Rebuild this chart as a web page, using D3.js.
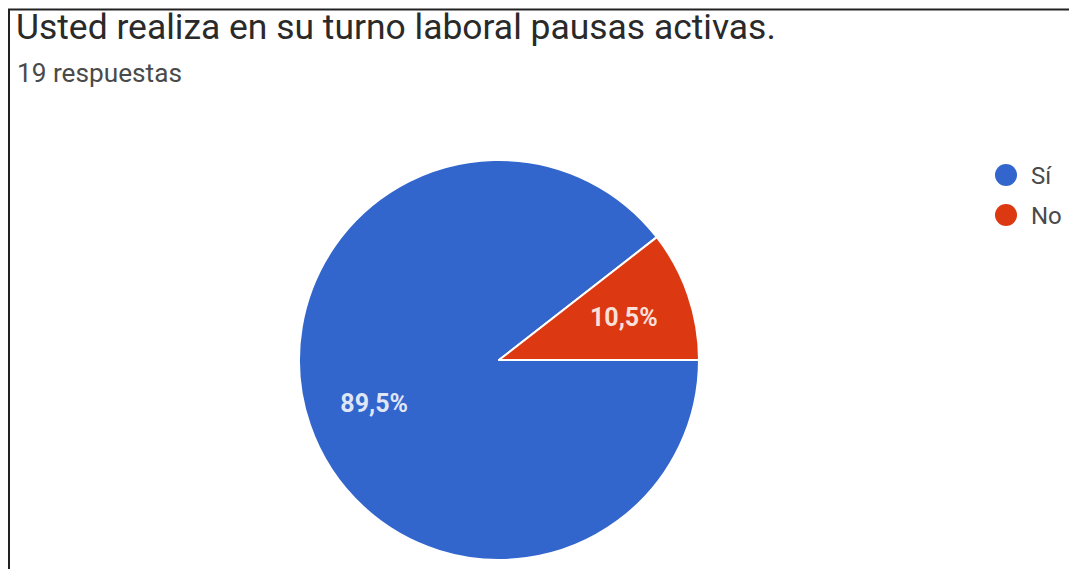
<!DOCTYPE html>
<html>
<head>
<meta charset="utf-8">
<script src="https://cdn.jsdelivr.net/npm/d3@7"></script>
<style>
  html, body { margin: 0; padding: 0; background: #fff; }
  svg { display: block; }
</style>
</head>
<body>
<svg id="chart" width="1069" height="569"></svg>
<script>
// Survey question and responses
const title = "Usted realiza en su turno laboral pausas activas.";
const subtitle = "19 respuestas";
const categories = ["Sí", "No"];
const values = [17, 2];
const percentLabels = ["89,5%", "10,5%"];
const colors = ["#3366cc", "#dc3912"];

const svg = d3.select("#chart");
const W = 1069, H = 569;
const FONT = "Roboto, 'Noto Sans', Arial, sans-serif";

// Sets a text's font size so that its natural width reaches the given width
function fitWidth(sel, width, baseSize) {
  sel.attr("font-size", baseSize);
  const w = sel.node().getComputedTextLength();
  sel.attr("font-size", baseSize * width / w);
  return sel;
}

// Frame lines along the top and left edges
svg.append("line").attr("x1", 8).attr("x2", W).attr("y1", 9.5).attr("y2", 9.5)
  .attr("stroke", "#222").attr("stroke-width", 2);
svg.append("line").attr("x1", 9).attr("x2", 9).attr("y1", 9).attr("y2", H)
  .attr("stroke", "#222").attr("stroke-width", 2);

// Title and response count
const titleText = svg.append("text")
  .attr("x", 16).attr("y", 39)
  .attr("font-family", FONT)
  .attr("fill", "#2a2a2a")
  .text(title);
fitWidth(titleText, 760, 28);

const subText = svg.append("text")
  .attr("x", 17).attr("y", 82)
  .attr("font-family", FONT)
  .attr("fill", "#4a4a4a")
  .text(subtitle);
fitWidth(subText, 165, 20);

// Pie, starting at 3 o'clock and running clockwise
const cx = 499, cy = 360, R = 200;
const pie = d3.pie().sort(null)
  .startAngle(Math.PI / 2).endAngle(Math.PI / 2 + 2 * Math.PI)
  .value(d => d);
const arcs = pie(values);
const arc = d3.arc().innerRadius(0).outerRadius(R);
const labelArc = d3.arc().innerRadius(R * 0.66).outerRadius(R * 0.66);

const g = svg.append("g").attr("transform", `translate(${cx},${cy})`);
g.selectAll("path.slice")
  .data(arcs)
  .join("path")
  .attr("class", "slice")
  .attr("d", arc)
  .attr("fill", (d, i) => colors[i])
  .attr("stroke", "#fff")
  .attr("stroke-width", 2)
  .attr("stroke-linejoin", "round");

g.selectAll("text.pct")
  .data(arcs)
  .join("text")
  .attr("class", "pct")
  .attr("transform", d => `translate(${labelArc.centroid(d)})`)
  .attr("text-anchor", "middle")
  .attr("dy", "0.36em")
  .attr("font-family", FONT)
  .attr("font-size", 25)
  .attr("font-weight", "bold")
  .attr("fill", "#fff")
  .attr("fill-opacity", 0.85)
  .text((d, i) => percentLabels[i]);

// Legend
const legend = svg.append("g").attr("transform", "translate(1006,175)");
const item = legend.selectAll("g.item")
  .data(categories)
  .join("g")
  .attr("class", "item")
  .attr("transform", (d, i) => `translate(0,${i * 40})`);
item.append("circle").attr("r", 11).attr("fill", (d, i) => colors[i]);
item.append("text")
  .attr("x", 25).attr("dy", "0.36em")
  .attr("font-family", FONT)
  .attr("font-size", 24)
  .attr("fill", "#4a4a4a")
  .text(d => d);
</script>
</body>
</html>
